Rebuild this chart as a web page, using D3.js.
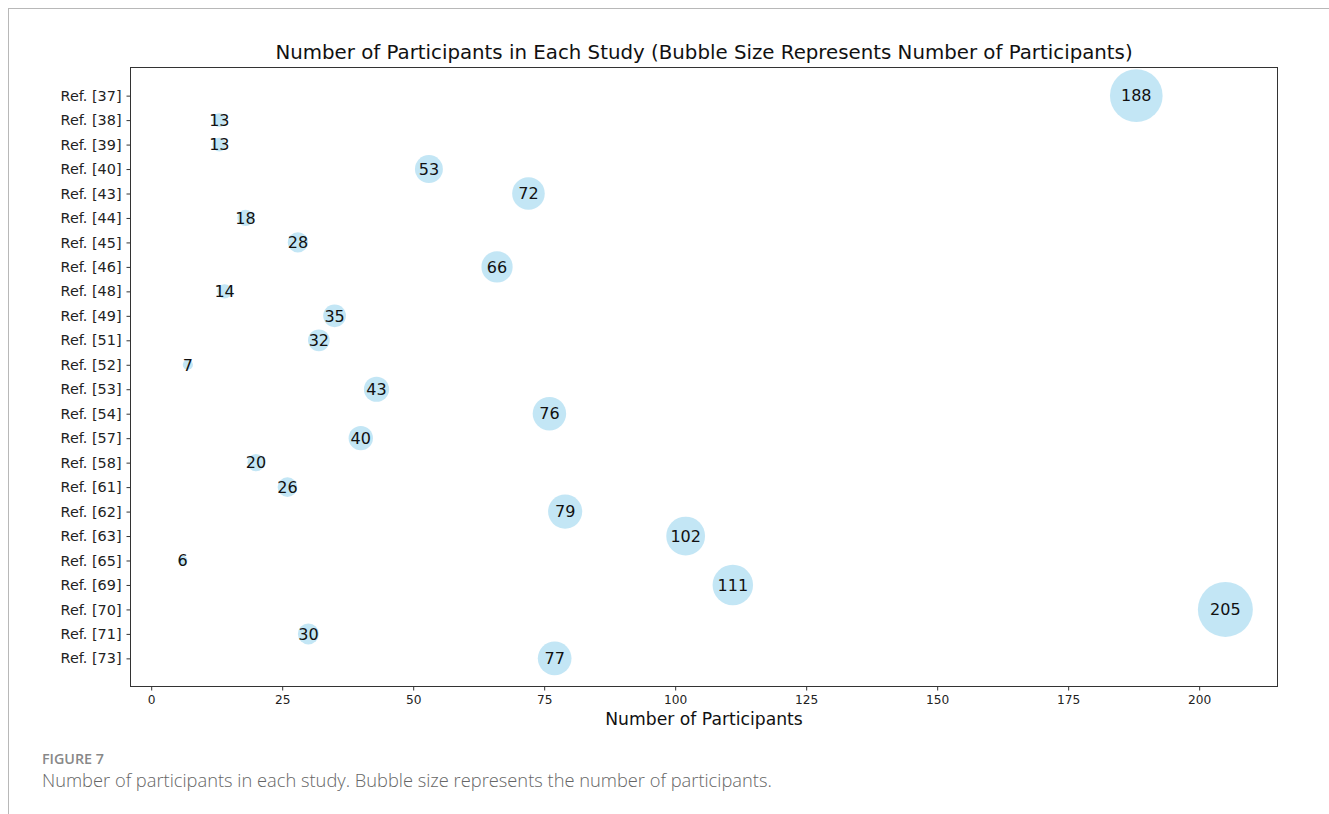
<!DOCTYPE html>
<html>
<head>
<meta charset="utf-8">
<script src="https://cdn.jsdelivr.net/npm/d3@7"></script>
<style>
  html, body { margin: 0; padding: 0; background: #fff; }
  svg { display: block; }
</style>
</head>
<body>
<svg id="chart" width="1329" height="814"></svg>
<script>
// Studies and their participant counts
const studies = ["Ref. [37]", "Ref. [38]", "Ref. [39]", "Ref. [40]", "Ref. [43]", "Ref. [44]",
  "Ref. [45]", "Ref. [46]", "Ref. [48]", "Ref. [49]", "Ref. [51]", "Ref. [52]", "Ref. [53]",
  "Ref. [54]", "Ref. [57]", "Ref. [58]", "Ref. [61]", "Ref. [62]", "Ref. [63]", "Ref. [65]",
  "Ref. [69]", "Ref. [70]", "Ref. [71]", "Ref. [73]"];
const participants = [188, 13, 13, 53, 72, 18, 28, 66, 14, 35, 32, 7, 43, 76, 40, 20, 26, 79,
  102, 6, 111, 205, 30, 77];
const xTicks = [0, 25, 50, 75, 100, 125, 150, 175, 200];

const svg = d3.select("#chart");
const plot = { left: 130.5, right: 1277.5, top: 67.5, bottom: 686.5 };
const mpl = "'DejaVu Sans', sans-serif";

// Frame lines of the figure panel
svg.append("line").attr("x1", 8).attr("x2", 1329).attr("y1", 8.5).attr("y2", 8.5)
  .attr("stroke", "#b8b8b8").attr("stroke-width", 1);
svg.append("line").attr("x1", 8.5).attr("x2", 8.5).attr("y1", 8).attr("y2", 814)
  .attr("stroke", "#b8b8b8").attr("stroke-width", 1);

// Scales with 5% padding around the data, as in the axes autoscale
const xMin = d3.min(participants), xMax = d3.max(participants);
const pad = (xMax - xMin) * 0.05;
const x = d3.scaleLinear().domain([xMin - pad, xMax + pad]).range([plot.left, plot.right]);
const n = studies.length;
const yPad = (n - 1) * 0.05;
const y = d3.scaleLinear().domain([-yPad, n - 1 + yPad]).range([plot.top, plot.bottom]);
const r = d3.scaleSqrt().domain([0, 205]).range([0, 27.5]);

// Bubbles
const g = svg.append("g");
g.selectAll("circle").data(participants).join("circle")
  .attr("cx", d => x(d))
  .attr("cy", (d, i) => y(i))
  .attr("r", d => r(d))
  .attr("fill", "#87ceeb")
  .attr("fill-opacity", 0.5);

// Value labels centred in each bubble
g.selectAll("text").data(participants).join("text")
  .attr("x", d => x(d))
  .attr("y", (d, i) => y(i))
  .attr("dy", "0.36em")
  .attr("text-anchor", "middle")
  .attr("font-family", mpl)
  .attr("font-size", 16)
  .attr("fill", "#111")
  .text(d => d);

// Axes
const xAxis = d3.axisBottom(x).tickValues(xTicks).tickSize(4).tickPadding(5);
const gx = svg.append("g").attr("transform", `translate(0,${plot.bottom})`).call(xAxis);
gx.select(".domain").remove();
gx.selectAll("text").attr("font-family", mpl).attr("font-size", 12.2).attr("fill", "#222");
gx.selectAll("line").attr("stroke", "#333");

const yAxis = d3.axisLeft(y).tickValues(d3.range(n)).tickFormat(i => studies[i]).tickSize(4).tickPadding(5);
const gy = svg.append("g").attr("transform", `translate(${plot.left},0)`).call(yAxis);
gy.select(".domain").remove();
gy.selectAll("text").attr("font-family", mpl).attr("font-size", 14.4).attr("fill", "#222");
gy.selectAll("line").attr("stroke", "#333");

// Plot frame
svg.append("rect")
  .attr("x", plot.left).attr("y", plot.top)
  .attr("width", plot.right - plot.left).attr("height", plot.bottom - plot.top)
  .attr("fill", "none").attr("stroke", "#333").attr("stroke-width", 1);

// Title and axis label
svg.append("text")
  .attr("x", (plot.left + plot.right) / 2).attr("y", 59)
  .attr("text-anchor", "middle")
  .attr("font-family", mpl).attr("font-size", 19.8).attr("fill", "#111")
  .text("Number of Participants in Each Study (Bubble Size Represents Number of Participants)");

svg.append("text")
  .attr("x", (plot.left + plot.right) / 2).attr("y", 725)
  .attr("text-anchor", "middle")
  .attr("font-family", mpl).attr("font-size", 17.2).attr("fill", "#111")
  .text("Number of Participants");

// Caption
svg.append("text")
  .attr("x", 42).attr("y", 764)
  .attr("font-family", "'Open Sans', sans-serif").attr("font-weight", 600).attr("font-size", 14.3)
  .attr("fill", "#888")
  .text("FIGURE 7");
svg.append("text")
  .attr("x", 42).attr("y", 787)
  .attr("font-family", "'Open Sans', sans-serif").attr("font-weight", 300).attr("font-size", 18.3).attr("fill", "#666")
  .text("Number of participants in each study. Bubble size represents the number of participants.");
</script>
</body>
</html>
